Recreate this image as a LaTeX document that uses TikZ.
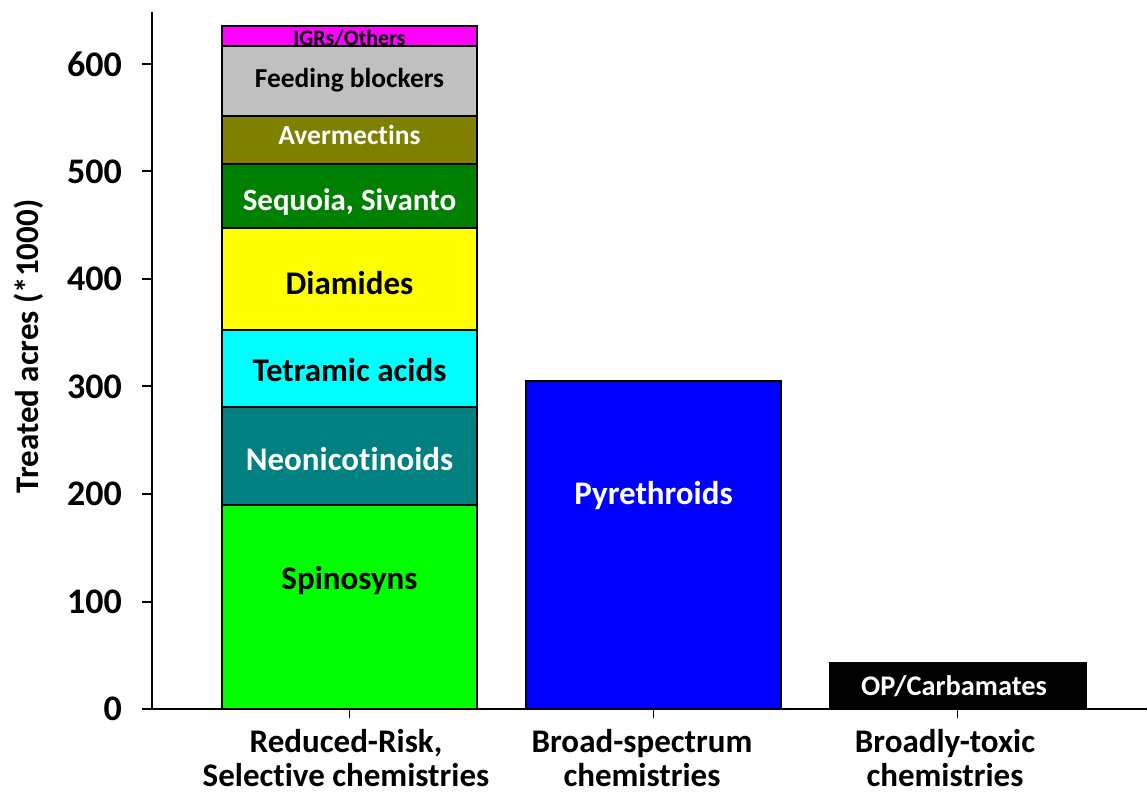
\documentclass[tikz,border=0pt]{standalone}
\usepackage{fontspec}
\setmainfont[Ligatures={NoCommon}]{Carlito}
\definecolor{spino}{HTML}{00FF00}
\definecolor{neonic}{HTML}{008080}
\definecolor{tetra}{HTML}{00FFFF}
\definecolor{diamid}{HTML}{FFFF00}
\definecolor{sequoia}{HTML}{008000}
\definecolor{averm}{HTML}{808000}
\definecolor{feeding}{HTML}{C0C0C0}
\definecolor{igr}{HTML}{FF00FF}
\definecolor{pyreth}{HTML}{0000FF}
\tikzset{% styles for the bars and their texts
  seg/.style={draw=black, line width=2pt},
  lbl/.style={font=\bfseries\fontsize{33}{34}\selectfont, inner sep=0pt, anchor=base},
  tick/.style={font=\bfseries\fontsize{36}{40}\selectfont, inner sep=0pt, anchor=east}
}

\begin{document}
\begin{tikzpicture}[x=1pt, y=1pt]
\useasboundingbox (0,0) rectangle (1147,798);
\begin{scope}[yshift=89pt, y=1.075pt]
% coordinates to be reused
\coordinate (O) at (152,0);
\coordinate (T) at (152,648.7);
\coordinate (R) at (1147,0);

% first bar, stacked
\draw [seg, fill=spino]   (222,0)   rectangle (477,190);
\draw [seg, fill=neonic]  (222,190) rectangle (477,281);
\draw [seg, fill=tetra]   (222,281) rectangle (477,353);
\draw [seg, fill=diamid]  (222,353) rectangle (477,447);
\draw [seg, fill=sequoia] (222,447) rectangle (477,507);
\draw [seg, fill=averm]   (222,507) rectangle (477,552);
\draw [seg, fill=feeding] (222,552) rectangle (477,617);
\draw [seg, fill=igr]     (222,617) rectangle (477,635);
\node [lbl] (spinosyns) at (349.5,110.7) {Spinosyns};
\node [lbl, white] (neonic) at (349.5,221.4) {Neonicotinoids};
\node [lbl] (tetramic) at (349.5,305.1) {Tetramic acids};
\node [lbl] (diamides) at (349.5,386) {Diamides};
\node [lbl, white, font=\bfseries\fontsize{31}{34}\selectfont] (sequoia) at (349.5,463.5) {Sequoia, Sivanto};
\node [lbl, white, font=\bfseries\fontsize{27.5}{30}\selectfont] (averm) at (349.5,524.7) {Avermectins};
\node [lbl, font=\bfseries\fontsize{27.4}{30}\selectfont] (feeding) at (349.5,578.3) {Feeding blockers};
\node [lbl, font=\bfseries\fontsize{22}{24}\selectfont] (igr) at (349.5,617.5) {IGRs/Others};

% second and third bar
\draw [seg, fill=pyreth] (526,0) rectangle (781,305);
\node [lbl, white] (pyreth) at (653.5,190.4) {Pyrethroids};
\draw [seg, fill=black] (830,0) rectangle (1086,42.5);
\node [lbl, white, font=\bfseries\fontsize{28.4}{30}\selectfont] (op) at (954,13) {OP/Carbamates};

% axes
\draw [line width=2pt] (T) -- (O) -- (R);
\draw [line width=2pt] (142,0) -- (O);
\foreach \v in {100,200,...,600}
  \draw [line width=2pt] (142,\v) -- (152,\v);
\foreach \v in {0,100,...,600}
  \node [tick] (t\v) at (122,\v) {\v};
\draw [line width=1.5pt] (349.5,0) -- (349.5,-8.5);
\draw [line width=1.5pt] (653.5,0) -- (653.5,-8.5);
\draw [line width=1.5pt] (957.5,0) -- (957.5,-8.5);
\node [lbl, align=center] (cat1) at (346,-72.3) {Reduced-Risk,\\Selective chemistries};
\node [lbl, align=center] (cat2) at (642,-72.3) {Broad-spectrum\\chemistries};
\node [lbl, align=center] (cat3) at (945,-72.3) {Broadly-toxic\\chemistries};
\node [lbl, rotate=90] (ylab) at (38,337.2) {Treated acres (*1000)};
\end{scope}
\end{tikzpicture}
\end{document}
